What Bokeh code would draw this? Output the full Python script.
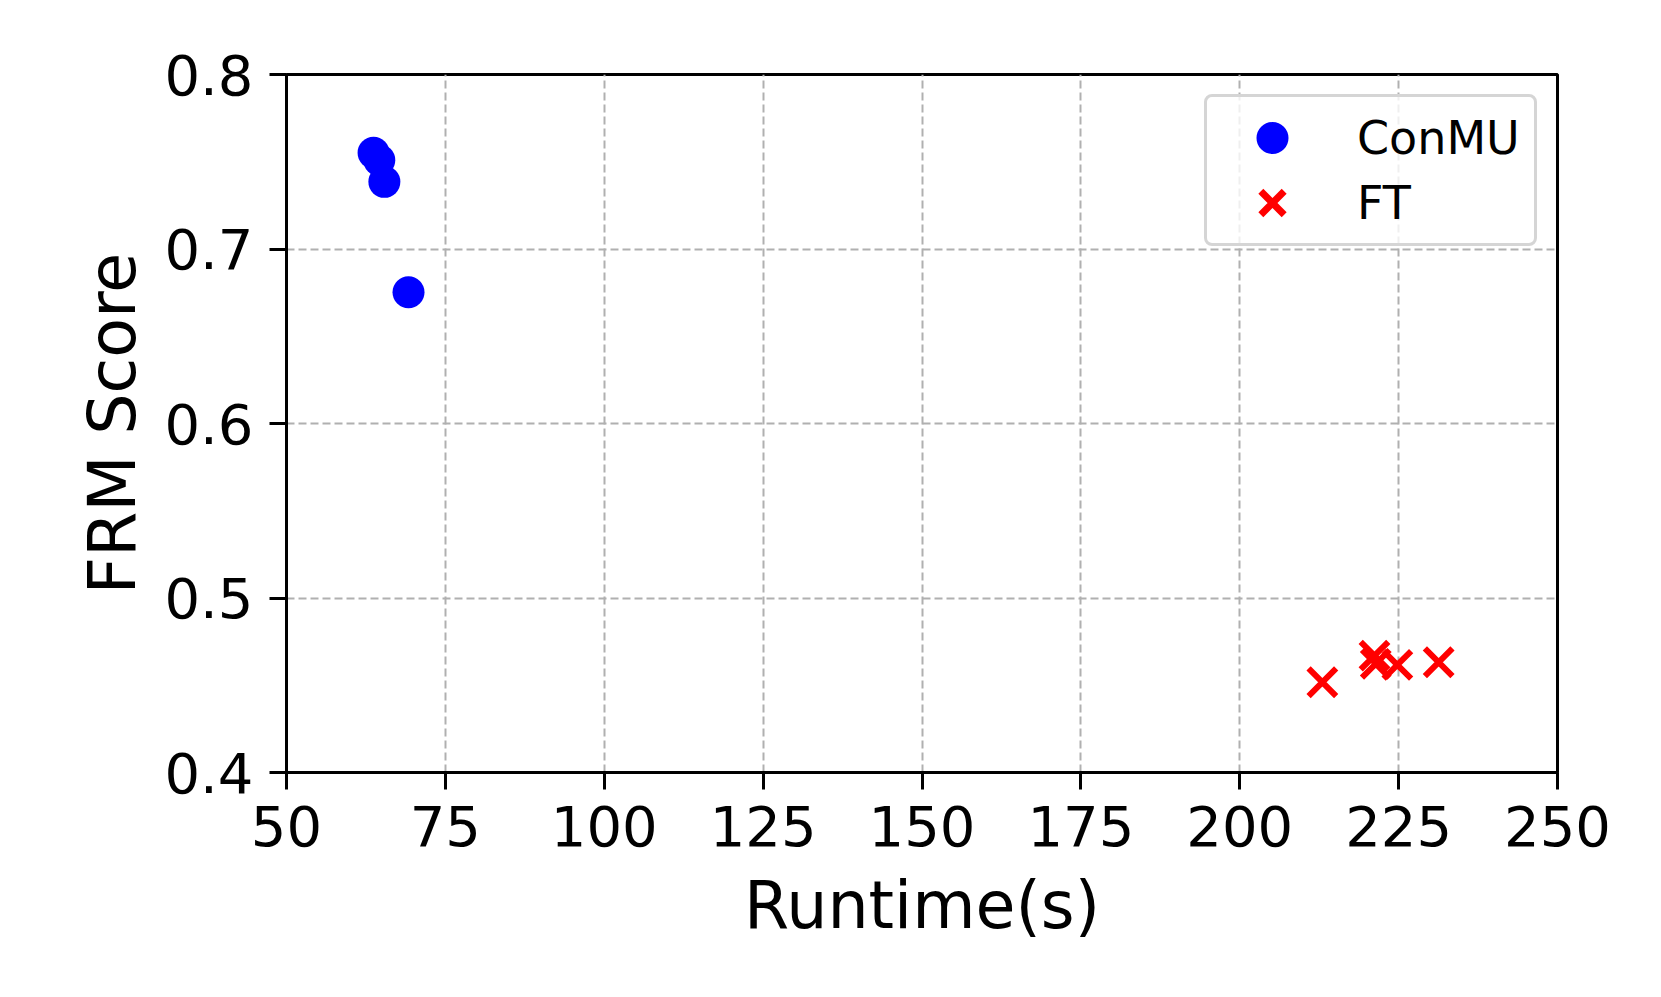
from bokeh.plotting import figure
from bokeh.models import Range1d, FixedTicker, Legend, LegendItem, ColumnDataSource
from bokeh.embed import file_html
from bokeh.resources import INLINE

# Data
conmu_runtime = [63.7, 64.6, 65.4, 69.2]
conmu_frm = [0.7551, 0.7509, 0.7385, 0.6752]
ft_runtime = [213.0, 221.2, 221.4, 224.8, 231.3]
ft_frm = [0.4517, 0.4670, 0.4623, 0.4617, 0.4632]

x_ticks = [50, 75, 100, 125, 150, 175, 200, 225, 250]
y_ticks = [0.4, 0.5, 0.6, 0.7, 0.8]

FONT = "DejaVu Sans"

p = figure(width=1645, height=980, output_backend="svg", toolbar_location=None,
           x_range=Range1d(50, 250), y_range=Range1d(0.4, 0.8),
           min_border_left=286, min_border_right=88, min_border_top=74, min_border_bottom=208)

# an unused range, so the legend-only renderers draw nothing inside the frame
p.extra_y_ranges = {"legend_only": Range1d(10, 11)}

p.background_fill_color = "white"
p.border_fill_color = "white"
p.outline_line_color = "black"
p.outline_line_width = 3

for ax in (p.xaxis[0], p.yaxis[0]):
    ax.axis_line_width = 3
    ax.axis_line_color = "black"
    ax.major_tick_line_width = 3
    ax.major_tick_out = 17
    ax.major_tick_in = 0
    ax.minor_tick_line_color = None
    ax.major_label_text_font = FONT
    ax.major_label_text_font_size = "56px"
    ax.major_label_text_color = "black"
    ax.axis_label_text_font = FONT
    ax.axis_label_text_font_size = "65px"
    ax.axis_label_text_font_style = "normal"
    ax.axis_label_text_color = "black"
    ax.major_label_standoff = 16

p.xaxis[0].ticker = FixedTicker(ticks=x_ticks)
p.yaxis[0].ticker = FixedTicker(ticks=y_ticks)
p.xaxis[0].axis_label = "Runtime(s)"
p.yaxis[0].axis_label = "FRM Score"
p.xaxis[0].axis_label_standoff = 19
p.yaxis[0].axis_label_standoff = 11

for g in (p.xgrid[0], p.ygrid[0]):
    g.grid_line_color = "#b0b0b0"
    g.grid_line_width = 2
    g.grid_line_dash = "8 4"
p.xgrid[0].ticker = FixedTicker(ticks=x_ticks)
p.ygrid[0].ticker = FixedTicker(ticks=y_ticks)

src_c = ColumnDataSource(data=dict(x=conmu_runtime, y=conmu_frm))
src_f = ColumnDataSource(data=dict(x=ft_runtime, y=ft_frm))

p.scatter("x", "y", source=src_c, marker="circle", size=32,
          fill_color="#0000ff", line_color="#0000ff", line_width=0)
p.scatter("x", "y", source=src_f, marker="x", size=39,
          line_color="#ff0000", line_width=6)

# legend-only renderers (off-frame range), styled so legend markers match the reference
lg1 = p.scatter("x", "y", source=src_c, y_range_name="legend_only",
                marker="circle", size=32, fill_color="#0000ff", line_color="#0000ff",
                line_width=6)
lg2 = p.scatter("x", "y", source=src_f, y_range_name="legend_only",
                marker="x", size=37, line_color="#ff0000", line_width=7,
                line_cap="square")

legend = Legend(items=[LegendItem(label="ConMU", renderers=[lg1]),
                       LegendItem(label="FT", renderers=[lg2])],
                location="top_right")
legend.margin = 20
legend.padding = 8
legend.spacing = 0
legend.glyph_width = 114
legend.glyph_height = 65
legend.label_height = 65
legend.label_width = 169
legend.label_standoff = 28
legend.label_text_font = FONT
legend.label_text_font_size = "46px"
legend.label_text_color = "black"
legend.border_line_color = "#d5d5d5"
legend.border_line_width = 3
legend.border_line_alpha = 1.0
legend.border_radius = 8
legend.background_fill_color = "white"
legend.background_fill_alpha = 0.8
p.add_layout(legend)

open("out.html", "w").write(file_html(p, INLINE))
